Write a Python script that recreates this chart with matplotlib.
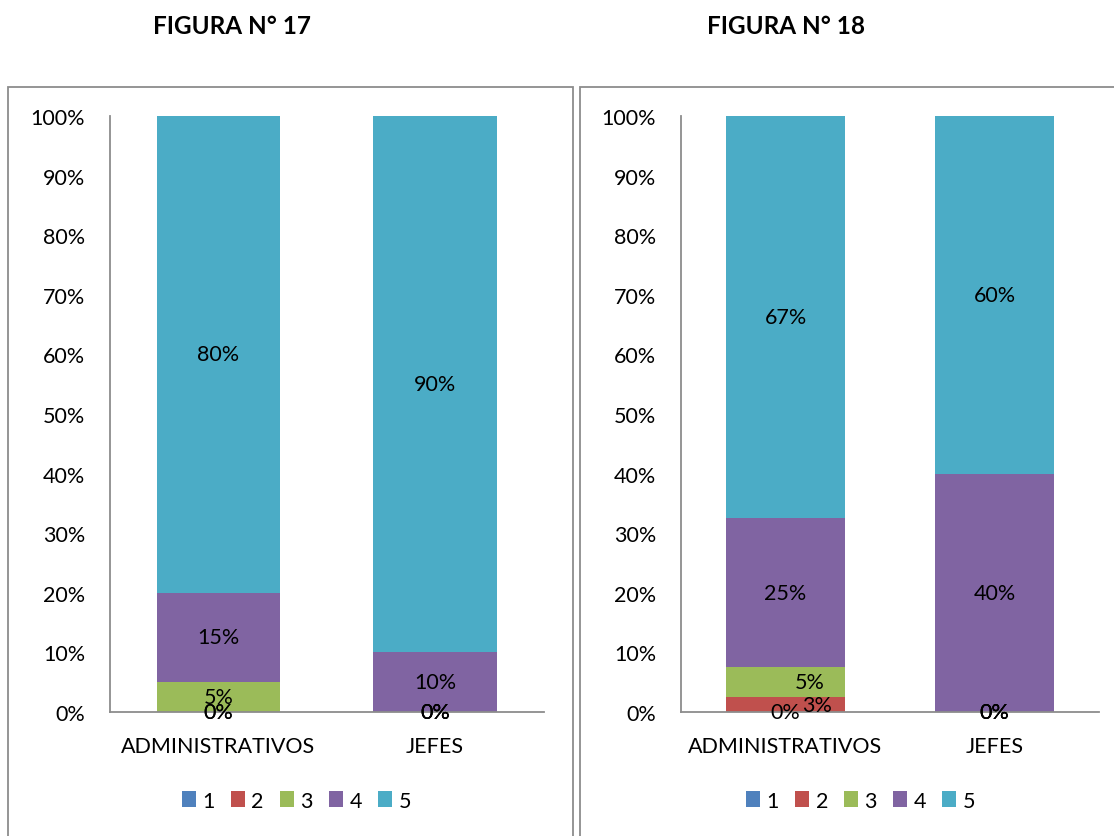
import matplotlib.pyplot as plt
from matplotlib.patches import Rectangle, Patch

plt.rcParams['font.family'] = ['Lato', 'DejaVu Sans']

# datos
categorias = ['ADMINISTRATIVOS', 'JEFES']
series = ['1', '2', '3', '4', '5']
colores = ['#4F81BD', '#C0504D', '#9BBB59', '#8064A2', '#4BACC6']

fig17_admin = [0, 0, 5, 15, 80]
fig17_jefes = [0, 0, 0, 10, 90]
fig18_admin = [0, 2.5, 5, 25, 67.5]
fig18_jefes = [0, 0, 0, 40, 60]

etiq18_admin = ['0%', '3%', '5%', '25%', '67%']

FS = 15.5
W, H = 1114, 837
fig = plt.figure(figsize=(W / 100, H / 100), dpi=100)

# marcos de cada figura
fig.patches.append(Rectangle((8 / W, -0.1), 565 / W, 1.1 - 88 / H, transform=fig.transFigure,
                             fill=False, edgecolor='#8c8c8c', linewidth=1.3))
fig.patches.append(Rectangle((580 / W, -0.1), 600 / W, 1.1 - 88 / H, transform=fig.transFigure,
                             fill=False, edgecolor='#8c8c8c', linewidth=1.3))


def panel(rect, admin, jefes, titulo, tx, etiquetas_admin=None, dx_admin=None):
    ax = fig.add_axes(rect)
    datos = [admin, jefes]
    x = [0, 1]
    bottom = [0, 0]
    for i, s in enumerate(series):
        vals = [d[i] for d in datos]
        ax.bar(x, vals, 0.57, bottom=bottom, color=colores[i], label=s)
        for j in range(2):
            txt = '%d%%' % round(vals[j])
            if j == 0 and etiquetas_admin is not None:
                txt = etiquetas_admin[i]
            dx = 0
            if j == 0 and dx_admin is not None:
                dx = dx_admin[i]
            ax.text(x[j] + dx, bottom[j] + vals[j] / 2, txt, ha='center', va='center',
                    fontsize=FS, color='black')
        bottom = [bottom[k] + vals[k] for k in range(2)]
    ax.set_xlim(-0.5, 1.5)
    ax.set_ylim(0, 100)
    ax.set_yticks(range(0, 101, 10))
    ax.set_yticklabels(['%d%%' % v for v in range(0, 101, 10)])
    ax.set_xticks(x)
    ax.set_xticklabels(categorias)
    ax.tick_params(length=0, labelsize=FS)
    ax.tick_params(axis='x', pad=17)
    ax.tick_params(axis='y', pad=18)
    for sp in ['top', 'right']:
        ax.spines[sp].set_visible(False)
    for sp in ['left', 'bottom']:
        ax.spines[sp].set_color('#8c8c8c')
        ax.spines[sp].set_linewidth(1.3)
    fig.text(tx / W, 1 - 27 / H, titulo, ha='center', va='center',
             fontsize=17.5, fontweight='bold')
    handles = [Patch(facecolor=c, edgecolor='none') for c in colores]
    ax.legend(handles, series, loc='center', ncol=5, frameon=False,
              bbox_to_anchor=(0.43, -0.149), fontsize=FS,
              handlelength=0.65, handleheight=0.75, handletextpad=0.3,
              columnspacing=0.75)
    return ax


panel([110 / W, 1 - 713 / H, 433.5 / W, 596 / H], fig17_admin, fig17_jefes,
      'FIGURA N° 17', 232)
panel([681 / W, 1 - 713 / H, 418 / W, 596 / H], fig18_admin, fig18_jefes,
      'FIGURA N° 18', 786, etiq18_admin, [0, 0.15, 0.115, 0, 0])

fig.savefig('out.png', dpi=100, facecolor='white')
